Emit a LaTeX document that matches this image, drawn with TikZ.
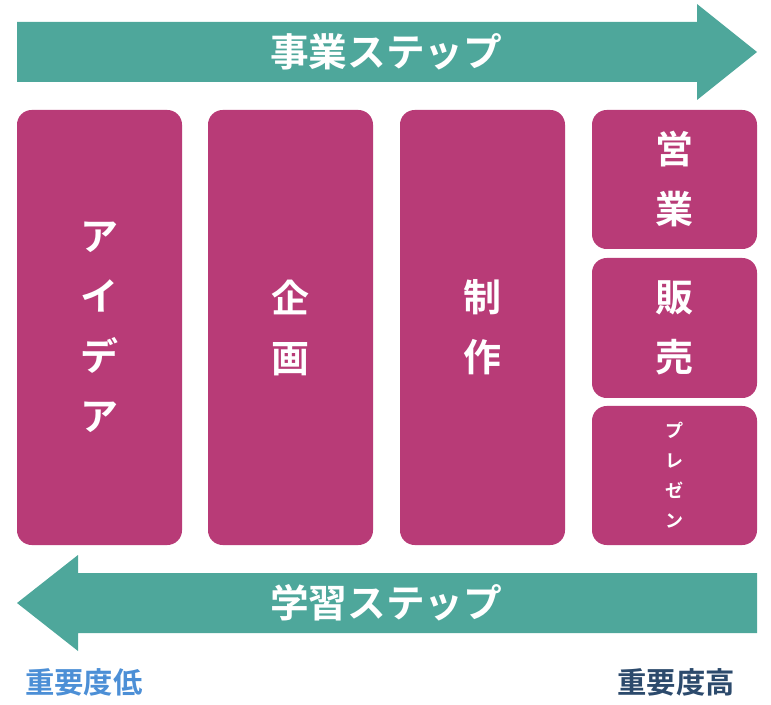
\documentclass[tikz,border=0pt]{standalone}
\usepackage{fontspec}
\newfontfamily\jpfont{Noto Sans CJK JP}[BoldFont=* Bold]
\usetikzlibrary{positioning}
\definecolor{stepteal}{HTML}{4EA79B}
\definecolor{stepmag}{HTML}{B83B77}
\definecolor{lowblue}{HTML}{4C8FD6}
\definecolor{highnavy}{HTML}{2C4A6C}
\tikzset{
  stepbox/.style  ={rectangle, rounded corners=11pt, fill=stepmag, text=white,
                    minimum width=123.75pt, align=center,
                    font=\jpfont\bfseries\fontsize{28.5}{45}\selectfont},
  smallbox/.style ={stepbox, font=\jpfont\bfseries\fontsize{13.5}{22.5}\selectfont},
  steparrow/.style={fill=stepteal},
  arrowtext/.style={text=white, font=\jpfont\bfseries\fontsize{29}{34}\selectfont},
  rank/.style     ={font=\jpfont\bfseries\fontsize{22}{26}\selectfont}
}
\begin{document}
\begin{tikzpicture}[x=0.75pt, y=-0.75pt]
  \useasboundingbox (0,0) rectangle (771,705);
  % step arrows
  \fill[steparrow] (17,22) -- (697,22) -- (697,4) -- (757,52)
                   -- (697,100) -- (697,82) -- (17,82) -- cycle;
  \fill[steparrow] (757,573) -- (78,573) -- (78,555) -- (17,603)
                   -- (78,651) -- (78,633) -- (757,633) -- cycle;
  \node[arrowtext] (biz)   at (386,52)  {事業ステップ};
  \node[arrowtext] (learn) at (386,603) {学習ステップ};
  % columns
  \node[stepbox, minimum height=326.25pt] (idea) at (99.5,327.5)  {ア\\イ\\デ\\ア};
  \node[stepbox, minimum height=326.25pt] (plan) at (290.5,327.5) {企\\画};
  \node[stepbox, minimum height=326.25pt] (make) at (482.5,327.5) {制\\作};
  \node[stepbox, minimum height=104.25pt] (sales) at (674.5,179.5) {営\\業};
  \node[stepbox, minimum height=105pt]    (sell)  at (674.5,328)   {販\\売};
  \node[smallbox, minimum height=104.25pt] (pres) at (674.5,475.5) {プ\\レ\\ゼ\\ン};
  % importance
  \node[rank, text=lowblue]   (low)  at (84,682)  {重要度低};
  \node[rank, text=highnavy]  (high) at (676,682) {重要度高};
\end{tikzpicture}
\end{document}
